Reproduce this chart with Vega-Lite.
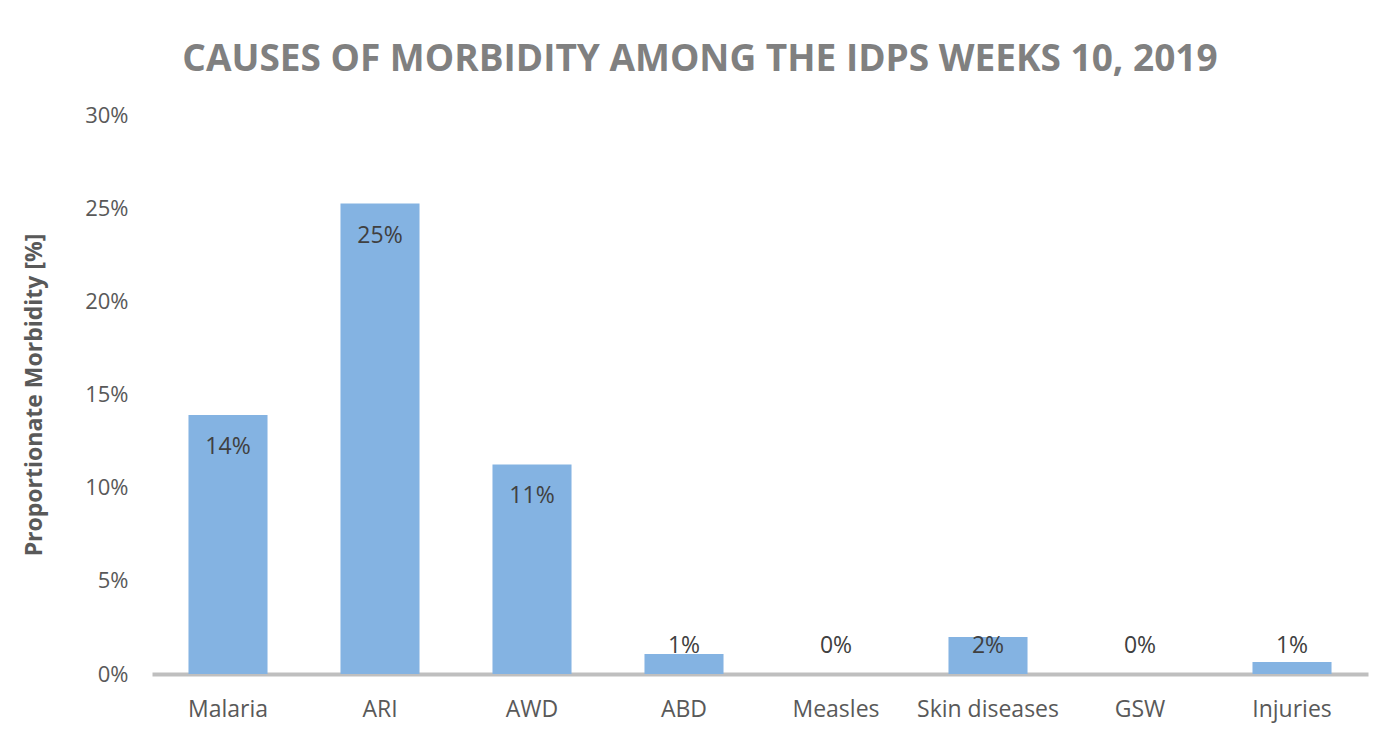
{
  "$schema": "https://vega.github.io/schema/vega-lite/v6.json",
  "width": 1216,
  "height": 559,
  "autosize": {"type": "none"},
  "padding": {"left": 152, "top": 115, "right": 25, "bottom": 61},
  "background": "white",
  "title": {
    "text": "CAUSES OF MORBIDITY AMONG THE IDPS WEEKS 10, 2019",
    "font": "Open Sans",
    "fontSize": 37,
    "fontWeight": "bold",
    "color": "#808080",
    "anchor": "middle",
    "dx": -60,
    "offset": 25
  },
  "data": {
    "values": [
      {"cause": "Malaria", "value": 13.9, "label": "14%"},
      {"cause": "ARI", "value": 25.25, "label": "25%"},
      {"cause": "AWD", "value": 11.25, "label": "11%"},
      {"cause": "ABD", "value": 1.07, "label": "1%"},
      {"cause": "Measles", "value": 0, "label": "0%"},
      {"cause": "Skin diseases", "value": 1.99, "label": "2%"},
      {"cause": "GSW", "value": 0, "label": "0%"},
      {"cause": "Injuries", "value": 0.64, "label": "1%"}
    ]
  },
  "encoding": {
    "x": {
      "field": "cause",
      "type": "nominal",
      "sort": null,
      "scale": {"paddingInner": 0.48, "paddingOuter": 0.24},
      "axis": {
        "title": null,
        "labelAngle": 0,
        "labelFont": "Open Sans",
        "labelFontSize": 23,
        "labelColor": "#595959",
        "labelPadding": 24,
        "ticks": false,
        "domainColor": "#bfbfbf",
        "domainWidth": 4,
        "grid": false
      }
    }
  },
  "layer": [
    {
      "mark": {"type": "bar", "fill": "#84b3e2", "strokeWidth": 0},
      "encoding": {
        "y": {
          "field": "value",
          "type": "quantitative",
          "scale": {"domain": [0, 30], "nice": false},
          "axis": {
            "values": [0, 5, 10, 15, 20, 25, 30],
            "labelExpr": "datum.value + '%'",
            "title": "Proportionate Morbidity [%]",
            "titleFont": "Open Sans",
            "titleFontSize": 23,
            "titleFontWeight": "bold",
            "titleColor": "#595959",
            "titlePadding": 38,
            "labelFont": "Open Sans",
            "labelFontSize": 22,
            "labelColor": "#595959",
            "labelPadding": 24,
            "ticks": false,
            "domain": false,
            "grid": false
          }
        }
      }
    },
    {
      "transform": [{"filter": "datum.value >= 3.2"}],
      "mark": {"type": "text", "font": "Open Sans", "fontSize": 23, "color": "#404040", "dy": 32, "baseline": "middle"},
      "encoding": {
        "y": {"field": "value", "type": "quantitative"},
        "text": {"field": "label"}
      }
    },
    {
      "transform": [{"filter": "datum.value < 3.2"}],
      "mark": {"type": "text", "font": "Open Sans", "fontSize": 23, "color": "#404040", "dy": -28, "baseline": "middle"},
      "encoding": {
        "y": {"datum": 0, "type": "quantitative"},
        "text": {"field": "label"}
      }
    }
  ],
  "config": {"view": {"stroke": null}}
}
